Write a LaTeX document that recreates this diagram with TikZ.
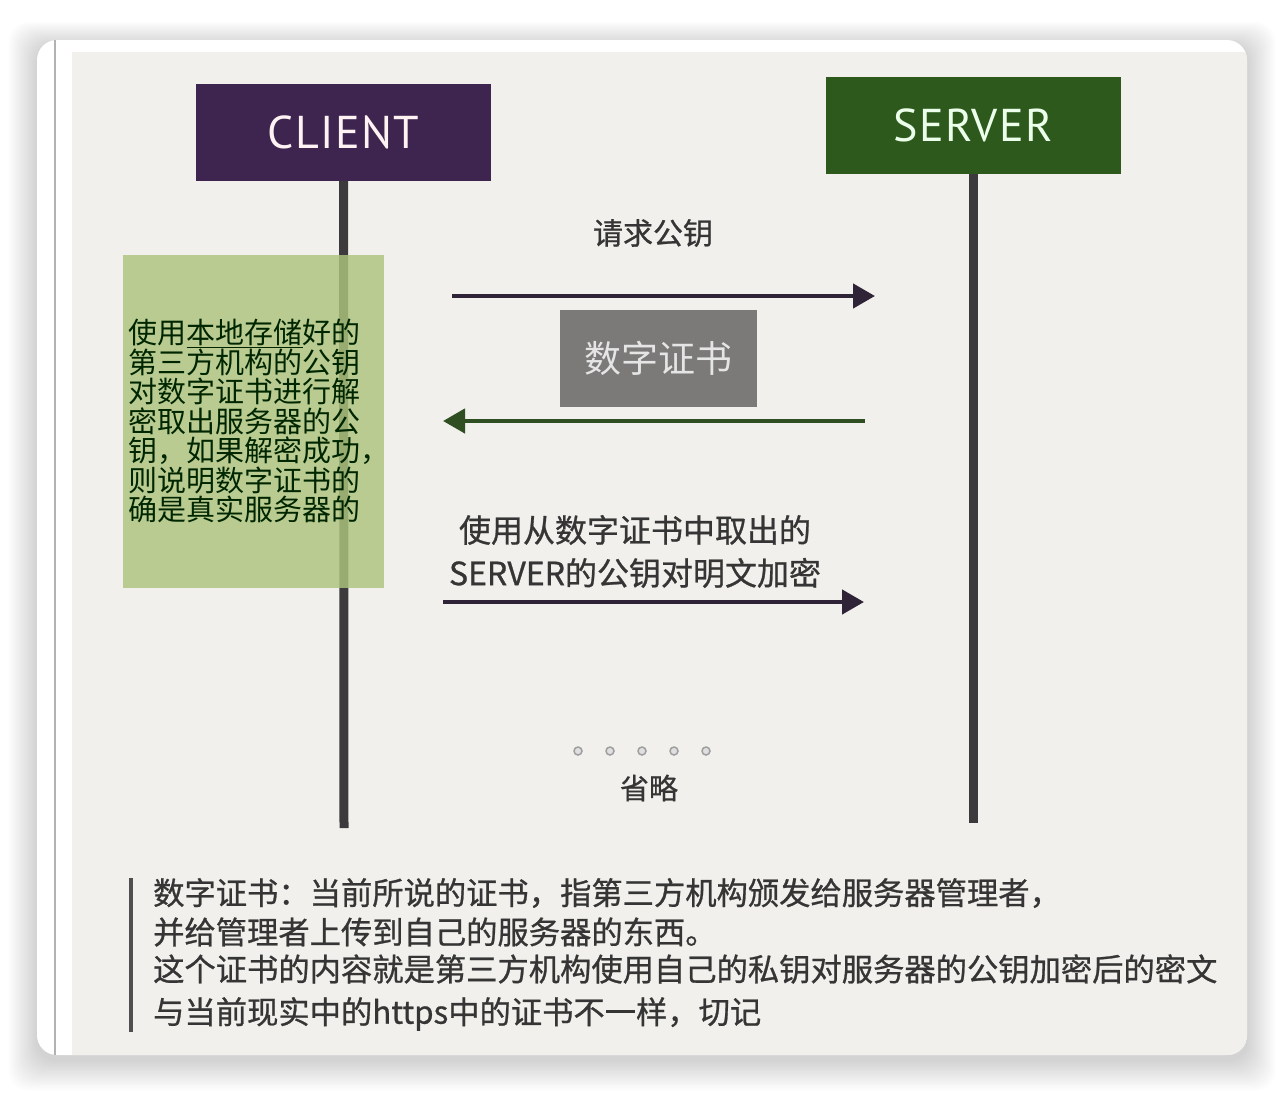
\documentclass[tikz,border=0pt]{standalone}
\usepackage{fontspec}
\setmainfont{Noto Sans CJK SC}
\newfontfamily\cjkmed{Noto Sans CJK SC}[FakeBold=0.8]
\newfontfamily\headfont{PT Sans}[LetterSpace=3]
\usepackage{xcolor}
\usepackage{tikz}
\usetikzlibrary{arrows.meta, positioning}

\definecolor{paper}{HTML}{F1F0EC}
\definecolor{clientpurple}{HTML}{3D2550}
\definecolor{servergreen}{HTML}{2D5A1C}
\definecolor{lifegray}{HTML}{3C3A3D}
\definecolor{notegreen}{HTML}{ADC47C}
\definecolor{certgray}{HTML}{7B7A79}
\definecolor{arrpurple}{HTML}{2F2338}
\definecolor{arrgreen}{HTML}{2F4F22}
\definecolor{textgray}{HTML}{353535}

\begin{document}
\begin{tikzpicture}[
    x=1pt, y=-1pt,
    card/.style = {
        rectangle, rounded corners=20pt, fill=white,
        minimum width=1210pt, minimum height=1015pt
    },
    actor/.style = {
        rectangle, minimum width=295pt, minimum height=97pt,
        text centered, font=\headfont\fontsize{46}{50}\selectfont
    },
    client/.style = {actor, fill=clientpurple, text=white!95!red},
    server/.style = {actor, fill=servergreen,  text=green!8!white},
    lifeline/.style = {line width=9pt, draw=lifegray},
    notebox/.style = {
        rectangle, fill=notegreen, fill opacity=0.82, text opacity=1,
        minimum width=261pt, minimum height=333pt, inner xsep=6pt,
        text width=249pt, align=left, text=black!85!green,
        font=\fontsize{29}{29.5}\selectfont
    },
    certbox/.style = {
        rectangle, fill=certgray, minimum width=197pt, minimum height=97pt,
        text=white!90!black, font=\fontsize{37}{40}\selectfont
    },
    msg/.style  = {inner sep=0pt, text=textgray, font=\cjkmed\fontsize{30}{43}\selectfont},
    remark/.style = {inner sep=0pt, anchor=west, text=textgray,
        font=\cjkmed\fontsize{31.3}{33}\selectfont},
    pausedot/.style = {draw=gray!75, fill=gray!25, line width=1.5pt},
    arr/.style  = {-{Triangle[length=22pt, width=24pt]}, line width=4.5pt, arrpurple},
    rarr/.style = {arr, arrgreen}
]
\useasboundingbox (0,0) rectangle (1282,1092);
\fill[white] (0,0) rectangle (1282,1092);

% soft shadow, then card and paper
\foreach \s in {1,...,22}
    \fill[black, opacity=0.008, rounded corners=20pt]
        ({37-1.3*\s},{46-1.1*\s}) rectangle ({1247+1.3*\s},{1060+1.4*\s});
\node[card] (card) at (642,547.5) {};
\begin{scope}
    \clip[rounded corners=20pt] (card.south west) rectangle (card.north east);
    \fill[paper] (72,52) rectangle (1247,1055);
    \draw[gray!60, line width=1.5pt] (55,40) -- (55,1055);
\end{scope}

% actors
\node[client] (client) at (343.5,132) {CLIENT};
\node[server] (server) at (973,125.5) {SERVER};
\coordinate (clientend) at (344,828);
\coordinate (serverend) at (973,823);
\draw[lifeline] (client.south) -- (clientend);
\draw[lifeline] (server.south) -- (serverend);

% note on the client side
\node[notebox] (verify) at (253,421)
    {使用\underline{本地存储}好的\\第三方机构的公钥\\对数字证书进行解\\密取出服务器的公\\钥，如果解密成功，\\则说明数字证书的\\确是真实服务器的};

% messages
\coordinate (c1) at (452,296);
\coordinate (s1) at (875,296);
\coordinate (s2) at (865,421);
\coordinate (c2) at (443,421);
\coordinate (c3) at (443,602);
\coordinate (s3) at (864,602);

\node[msg] (askkey) at (653,233) {请求公钥};
\draw[arr] (c1) -- (s1);
\node[certbox] (cert) at (658.5,358) {数字证书};
\draw[rarr] (s2) -- (c2);
\node[msg, align=center, font=\cjkmed\fontsize{32}{43}\selectfont] (encrypt) at (635,551.5)
    {使用从数字证书中取出的\\SERVER的公钥对明文加密};
\draw[arr] (c3) -- (s3);

% omitted part
\foreach \x in {578,610,642,674,706}
    \draw[pausedot] (\x,751) circle (4pt);
\node[msg, font=\cjkmed\fontsize{29}{30}\selectfont] (omit) at (649,788) {省略};

% remark at the bottom
\draw[line width=4.5pt, lifegray!90] (131,878) -- (131,1032);
\node[remark] (note1) at (153,893) {数字证书：当前所说的证书，指第三方机构颁发给服务器管理者，};
\node[remark] (note2) at (153,932) {并给管理者上传到自己的服务器的东西。};
\node[remark] (note3) at (153,969) {这个证书的内容就是第三方机构使用自己的私钥对服务器的公钥加密后的密文};
\node[remark] (note4) at (153,1014) {与当前现实中的https中的证书不一样，切记};
\end{tikzpicture}
\end{document}
